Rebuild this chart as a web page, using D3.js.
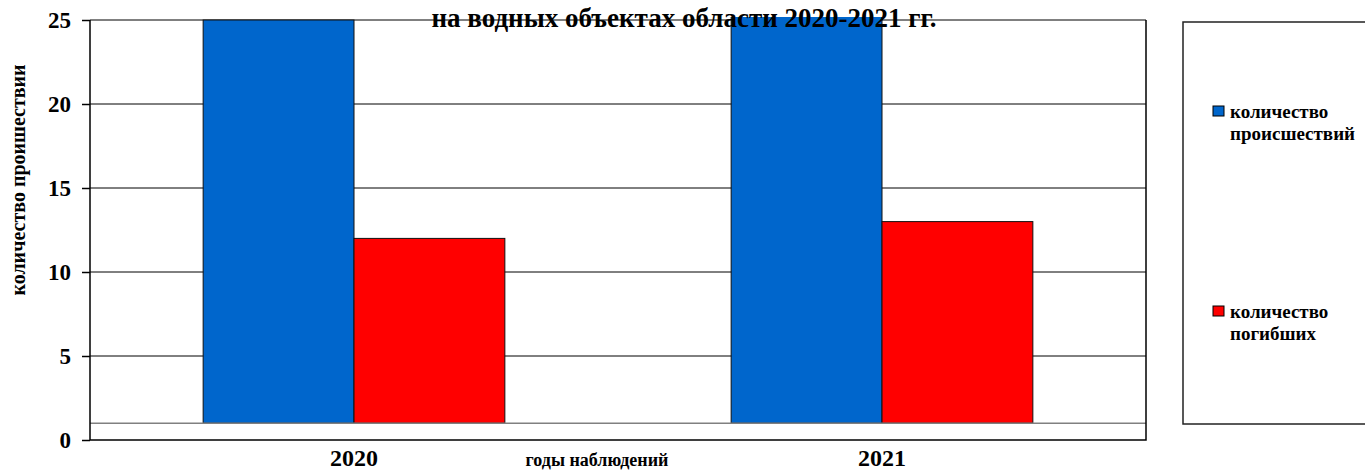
<!DOCTYPE html>
<html>
<head>
<meta charset="utf-8">
<script src="https://cdn.jsdelivr.net/npm/d3@7"></script>
<style>
  body { margin: 0; background: #fff; }
  svg text { font-family: "Liberation Serif", "Times New Roman", serif; font-weight: bold; fill: #000; }
</style>
</head>
<body>
<div id="chart"></div>
<script>
// Chart data
const years = ['2020', '2021'];
const seriesNames = ['количество происшествий', 'количество погибших'];
const incidents = [25, 27];
const deaths = [12, 13];
const yTicks = [0, 5, 10, 15, 20, 25];
const colors = ['#0066CC', '#FF0000'];

const width = 1365;
const height = 470;
const margin = { top: 20, right: 219, bottom: 30, left: 90 };
const plotW = width - margin.left - margin.right;
const plotH = height - margin.top - margin.bottom;

const svg = d3
  .select('#chart')
  .append('svg')
  .attr('width', width)
  .attr('height', height);

const g = svg.append('g').attr('transform', `translate(${margin.left},${margin.top})`);

// Scales
const x = d3.scaleBand().domain(years).range([0, plotW]).paddingInner(0).paddingOuter(0);
const xInner = d3.scaleBand().domain(seriesNames).range([0, x.bandwidth()]).paddingOuter(0.75).paddingInner(0);
const y = d3.scaleLinear().domain([0, 25]).range([plotH, 0]);

// Gridlines
g.selectAll('.grid')
  .data(yTicks.filter((d) => d > 0))
  .enter()
  .append('line')
  .attr('x1', 0)
  .attr('x2', plotW)
  .attr('y1', (d) => y(d))
  .attr('y2', (d) => y(d))
  .attr('stroke', '#000')
  .attr('stroke-width', 1);

// Bars (category axis crosses at 1)
g.append('clipPath')
  .attr('id', 'clip')
  .append('rect')
  .attr('x', 0)
  .attr('y', -3)
  .attr('width', plotW)
  .attr('height', plotH + 3);

const rows = years.map((yr, i) => ({ year: yr, values: [incidents[i], deaths[i]] }));
const groups = g
  .append('g')
  .attr('clip-path', 'url(#clip)')
  .selectAll('.year')
  .data(rows)
  .enter()
  .append('g')
  .attr('transform', (d) => `translate(${x(d.year)},0)`);

groups
  .selectAll('rect')
  .data((d) => d.values.map((v, j) => ({ name: seriesNames[j], value: v, color: colors[j] })))
  .enter()
  .append('rect')
  .attr('x', (d) => xInner(d.name))
  .attr('width', xInner.bandwidth())
  .attr('y', (d) => y(d.value))
  .attr('height', (d) => y(1) - y(d.value))
  .attr('fill', (d) => d.color)
  .attr('stroke', '#111')
  .attr('stroke-width', 1);

// Category axis line at 1
g.append('line')
  .attr('x1', 0)
  .attr('x2', plotW)
  .attr('y1', y(1))
  .attr('y2', y(1))
  .attr('stroke', '#808080')
  .attr('stroke-width', 1.5);

// Plot frame: left, bottom, right
g.append('path')
  .attr('d', `M0,0V${plotH}H${plotW}V0`)
  .attr('fill', 'none')
  .attr('stroke', '#000')
  .attr('stroke-width', 1.5);

// Y axis ticks and labels
const yAxis = g.append('g').call(d3.axisLeft(y).tickValues(yTicks).tickSize(8).tickPadding(11));
yAxis.select('.domain').remove();
yAxis.selectAll('.tick line').attr('stroke', '#000').attr('stroke-width', 1.5);
yAxis.selectAll('text')
  .style('font-size', '23px')
  .style('font-family', '"Liberation Serif", serif')
  .style('font-weight', 'bold')
  .attr('fill', '#000');

// X labels
g.selectAll('.xlab')
  .data(years)
  .enter()
  .append('text')
  .attr('x', (d) => x(d) + x.bandwidth() / 2)
  .attr('y', plotH + 26)
  .attr('text-anchor', 'middle')
  .style('font-size', '24px')
  .text((d) => d);

svg.append('text')
  .attr('x', 597)
  .attr('y', 466)
  .attr('text-anchor', 'middle')
  .style('font-size', '18px')
  .text('годы наблюдений');

// Y title
svg.append('text')
  .attr('transform', 'translate(25,180) rotate(-90)')
  .attr('text-anchor', 'middle')
  .style('font-size', '20px')
  .text('количество проишествии');

// Chart title
svg.append('text')
  .attr('x', 684)
  .attr('y', 27)
  .attr('text-anchor', 'middle')
  .style('font-size', '27px')
  .text('на водных объектах области 2020-2021 гг.');

// Legend
const legend = svg.append('g');
legend.append('rect')
  .attr('x', 1183)
  .attr('y', 22)
  .attr('width', 200)
  .attr('height', 402)
  .attr('fill', '#fff')
  .attr('stroke', '#222')
  .attr('stroke-width', 1.5);

const legendLines = [['количество', 'происшествий'], ['количество', 'погибших']];
const legendY = [118, 318];
const items = legend
  .selectAll('.item')
  .data(seriesNames)
  .enter()
  .append('g')
  .attr('transform', (d, i) => `translate(1213,${legendY[i]})`);

items.append('rect')
  .attr('x', 0)
  .attr('y', -12)
  .attr('width', 11)
  .attr('height', 10)
  .attr('fill', (d, i) => colors[i])
  .attr('stroke', '#000')
  .attr('stroke-width', 1);

items.each(function (d, i) {
  const t = d3.select(this).append('text').style('font-size', '19px');
  legendLines[i].forEach((line, k) => {
    t.append('tspan').attr('x', 17).attr('y', k * 22).text(line);
  });
});
</script>
</body>
</html>
